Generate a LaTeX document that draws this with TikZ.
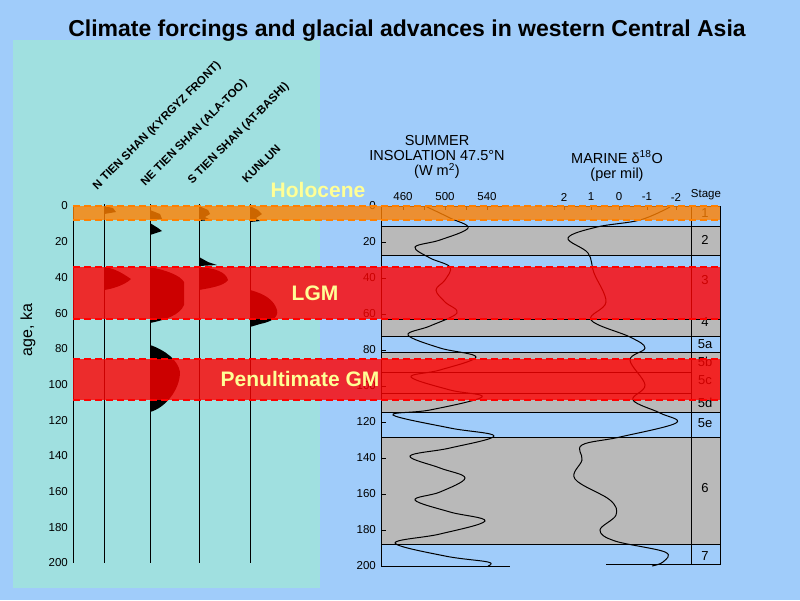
\documentclass[tikz,border=0pt]{standalone}
\usepackage{fontspec}
\setmainfont{Liberation Sans}
\definecolor{bgblue}{RGB}{160,204,250}
\definecolor{panel}{RGB}{160,224,224}
\definecolor{ylab}{RGB}{255,255,150}
\begin{document}
\begin{tikzpicture}[x=1pt,y=-1pt,
  ax/.style={line width=1pt,black},
  glac/.style={fill=black},
  tick/.style={font=\fontsize{11.5}{12}\selectfont,inner sep=0pt},
  lbl/.style={font=\fontsize{11.5}{13}\selectfont\bfseries,rotate=45,anchor=south west,inner sep=0pt},
  band/.style={fill=red,fill opacity=0.8,draw=none},
  bandedge/.style={red,line width=1.6pt,dash pattern=on 7pt off 4pt},
  grey/.style={fill=gray!55,draw=black,line width=0.4pt},
  big/.style={font=\fontsize{21}{22}\selectfont\bfseries,text=ylab,inner sep=0pt},
  hdr/.style={font=\fontsize{14.5}{15}\selectfont,align=center,inner sep=0pt}]
\fill[bgblue] (0,0) rectangle (800,600);
\useasboundingbox (0,0) rectangle (800,600);
\fill[panel] (13,40) rectangle (320,588);
\node[font=\fontsize{23}{24}\selectfont\bfseries] (title) at (407,31) {Climate forcings and glacial advances in western Central Asia};
% left panel
\draw[ax] (73,206) -- (73,563);
\foreach \a in {0,20,...,200} \node[tick,anchor=east] at (68,206+1.785*\a) {\a};
\node[rotate=90,font=\fontsize{16}{17}\selectfont] (agelab) at (28,330) {age, ka};
% glaciers
\fill[glac] (104,206) -- (113,208) -- (116,212) -- (104,214) -- cycle;
\fill[glac] (104,267) .. controls (115,268) and (125,275) .. (131,279) .. controls (125,285) and (112,289) .. (104,290) -- cycle;
\fill[glac] (150,210) -- (160,214) -- (162,219) -- (150,220) -- cycle;
\fill[glac] (150,223) -- (158,228) -- (162,231) -- (150,235) -- cycle;
\fill[glac] (150,267) .. controls (165,270) and (180,275) .. (184,282) -- (184,305) .. controls (180,315) and (165,320) .. (150,323) -- cycle;
\fill[glac] (150,345) .. controls (165,350) and (178,360) .. (180,372) .. controls (180,390) and (165,408) .. (150,412) -- cycle;
\fill[glac] (199,206) -- (208,210) -- (210,214) -- (205,217) -- (211,220) -- (199,221) -- cycle;
\fill[glac] (199,257) -- (208,262) -- (217,265) -- (199,266) -- cycle;
\fill[glac] (199,267) .. controls (215,268) and (226,272) .. (228,280) .. controls (224,286) and (210,288) .. (199,290) -- cycle;
\fill[glac] (250,206) -- (258,210) -- (262,214) -- (256,218) -- (260,221) -- (250,222) -- cycle;
\fill[glac] (250,290) .. controls (265,294) and (274,300) .. (277,310) .. controls (279,318) and (270,322) .. (260,324) -- (250,327) -- cycle;
\foreach \x in {104,150,199,250} \draw[ax] (\x,204) -- (\x,563);
\node[lbl] (c1) at (99,192) {N TIEN SHAN (KYRGYZ FRONT)};
\node[lbl] (c2) at (147,188) {NE TIEN SHAN (ALA-TOO)};
\node[lbl] (c3) at (194,186) {S TIEN SHAN (AT-BASHI)};
\node[lbl] (c4) at (247,184) {KUNLUN};
% right panel grey bands
\foreach \t/\b in {226/255,319/336,352/412,437/544} \draw[grey] (381,\t) rectangle (720,\b);
\draw[line width=0.4pt] (381,372) -- (691,372) (381,393) -- (691,393);
% axes
\draw[ax] (381,206) -- (381,566) -- (510,566);
\draw[ax] (381,206) -- (508,206);
\foreach \v in {460,480,...,540} \draw (445+1.05*\v-525,206) -- ++(0,4);
\foreach \a in {20,40,...,200} {\draw (381,206+1.8*\a) -- ++(5,0); \node[tick,anchor=east] at (376,206+1.8*\a) {\a};}
\node[tick,anchor=east] at (376,206) {0};
\node[tick] at (403,197) {460};
\node[tick] at (445,197) {500};
\node[tick] at (487,197) {540};
\draw[ax] (550,206) -- (720,206) -- (720,564) -- (606,564);
\draw (691,206) -- (691,564);
\foreach \v/\x in {2/564,1/591,0/619,-1/647,-2/676} {\draw (\x,206) -- ++(0,4); \node[tick] at (\x,197) {\v};}
\node[tick] at (706,195) {Stage};
\foreach \s/\y in {1/213,2/240,3/280,4/322,5a/344,5b/362,5c/380,5d/403,5e/423,6/488,7/556} \node[tick,font=\fontsize{13}{14}\selectfont] at (705,\y) {\s};
\node[hdr] (ins) at (437,157) {SUMMER\\INSOLATION 47.5°N\\(W m\textsuperscript{2})};
\node[hdr] (mar) at (617,166) {MARINE δ\textsuperscript{18}O\\(per mil)};
% curves
\draw[line width=1pt] plot[smooth,tension=0.6] coordinates {(425,206) (450,218) (468,228) (440,240) (415,247) (430,258) (450,267) (445,280) (436,290) (445,302) (457,313) (430,326) (408,335) (440,348) (476,357) (440,370) (411,377) (450,390) (482,397) (430,410) (393,415) (450,428) (494,436) (450,448) (410,456) (440,468) (465,478) (440,492) (415,500) (450,512) (485,521) (440,534) (395,543) (445,556) (488,562) (488,566)};
\draw[line width=1pt] plot[smooth,tension=0.6] coordinates {(670,207) (640,220) (597,227) (568,238) (588,253) (594,273) (606,302) (591,320) (630,337) (645,348) (630,360) (645,385) (633,400) (660,413) (676,423) (620,437) (582,445) (582,460) (575,479) (610,500) (616,515) (600,530) (615,541) (665,552) (663,562) (652,566)};
% red bands
\fill[band,fill=orange] (73,206) rectangle (720,220);
\draw[bandedge,orange] (73,206) -- (720,206) (73,220) -- (720,220);
\fill[band] (73,267) rectangle (720,319);
\draw[bandedge] (73,267) -- (720,267) (73,319) -- (720,319);
\fill[band] (73,359) rectangle (720,400);
\draw[bandedge] (73,359) -- (720,359) (73,400) -- (720,400);
\node[big] (hol) at (318,190) {Holocene};
\node[big] (lgm) at (315,293) {LGM};
\node[big] (pgm) at (300,379) {Penultimate GM};
\end{tikzpicture}
\end{document}
